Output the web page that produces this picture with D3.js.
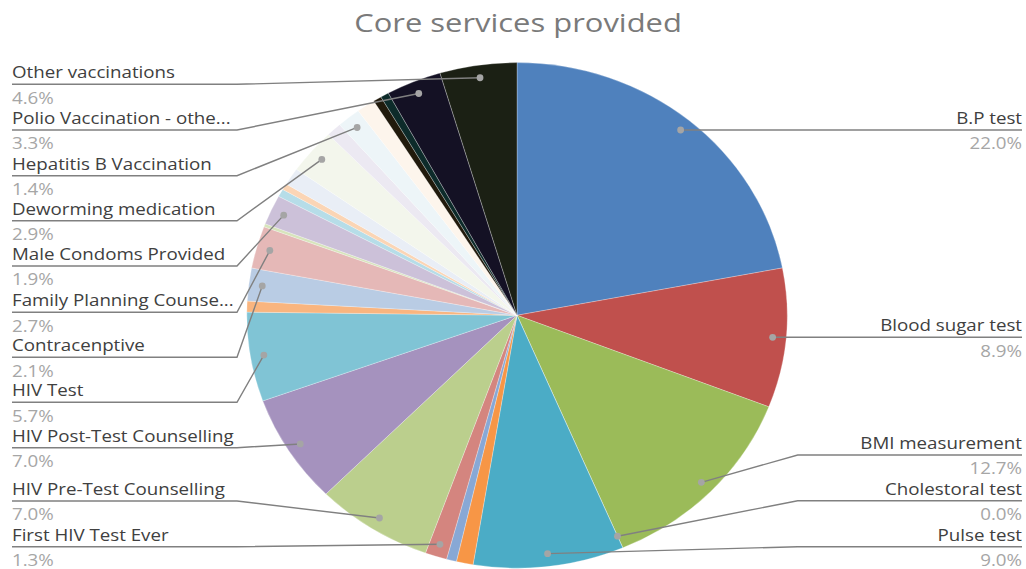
<!DOCTYPE html>
<html>
<head>
<meta charset="utf-8">
<script src="https://cdn.jsdelivr.net/npm/d3@7"></script>
<style>
  html, body { margin: 0; padding: 0; background: #fff; }
  svg { display: block; font-family: "Open Sans", "Noto Sans", sans-serif; }
</style>
</head>
<body>
<svg id="chart" width="1026" height="569"></svg>
<script>
// Services in drawing order (clockwise from 12 o'clock).
// Empty names are slices whose data labels are switched off.
const services = [
  "B.P test", "Blood sugar test", "BMI measurement", "Cholestoral test", "Pulse test",
  "", "", "First HIV Test Ever", "HIV Pre-Test Counselling", "HIV Post-Test Counselling",
  "HIV Test", "", "Contracenptive", "Family Planning Counse...", "",
  "Male Condoms Provided", "", "", "", "Deworming medication",
  "", "Hepatitis B Vaccination", "", "", "",
  "Polio Vaccination - othe...", "Other vaccinations"
];

// Share of services, in percent.
const shares = [
  22.0, 8.9, 12.7, 0.0, 9.0,
  1.0, 0.6, 1.3, 7.0, 7.0,
  5.7, 0.7, 2.1, 2.7, 0.2,
  1.9, 0.5, 0.4, 1.1, 2.9,
  0.9, 1.4, 1.1, 0.5, 0.5,
  3.3, 4.6
];

const sliceColors = [
  "#4f81bd", "#c0504d", "#9bbb59", "#8064a2", "#4bacc6",
  "#f79646", "#88a8d5", "#d4857f", "#bbcf8d", "#a592be",
  "#80c4d5", "#f9b57f", "#b9cce4", "#e5b8b7", "#d7e4bc",
  "#ccc1d9", "#b6dde8", "#fbd5b5", "#e9eef6", "#f3f6ec",
  "#ece9f2", "#edf5f8", "#fdf5ec", "#211a0c", "#0d2b2a",
  "#141124", "#1b2014"
];

// Vertical position of each label's underline.
const labelLineY = {
  "B.P test": 130, "Blood sugar test": 337.3, "BMI measurement": 455,
  "Cholestoral test": 500.7, "Pulse test": 546.7,
  "Other vaccinations": 84.3, "Polio Vaccination - othe...": 130,
  "Hepatitis B Vaccination": 175.7, "Deworming medication": 220.7,
  "Male Condoms Provided": 266, "Family Planning Counse...": 312.3,
  "Contracenptive": 357.3, "HIV Test": 402.3,
  "HIV Post-Test Counselling": 447.7, "HIV Pre-Test Counselling": 501,
  "First HIV Test Ever": 546.7
};

const svg = d3.select("#chart");
const cx = 517, cy = 315.3;
const r = 252.7;          // vertical radius
const sx = 270.2 / r;     // horizontal stretch of the pie
const textStretch = 1.135;
const labelSize = 16.5;

svg.append("text")
  .attr("transform", "translate(518,32) scale(1.19,1)")
  .attr("text-anchor", "middle")
  .attr("font-size", 26)
  .attr("fill", "#7a7a7a")
  .text("Core services provided");

const rows = services.map((name, i) => ({ name, value: shares[i], color: sliceColors[i] }));

const pie = d3.pie().sort(null).value(d => d.value);
const arcs = pie(rows);

const arc = d3.arc().innerRadius(0).outerRadius(r);
const anchorArc = d3.arc().innerRadius(r * 0.95).outerRadius(r * 0.95);

const pieG = svg.append("g")
  .attr("transform", `translate(${cx},${cy}) scale(${sx},1)`);

pieG.selectAll("path")
  .data(arcs)
  .join("path")
  .attr("d", arc)
  .attr("fill", d => d.data.color)
  .attr("stroke", "#ffffff")
  .attr("stroke-opacity", 0.45)
  .attr("stroke-width", 0.6)
  .attr("vector-effect", "non-scaling-stroke");

// Data labels with leader lines
const labelled = arcs.filter(d => d.data.name !== "");
const leftX = 12, leftElbow = 237, rightX = 1022, rightElbow = 797.7;
const fmt = v => v.toFixed(1) + "%";

const lab = svg.append("g");

labelled.forEach(d => {
  const [ax, ay] = anchorArc.centroid(d);
  const px = cx + ax * sx, py = cy + ay;
  const ly = labelLineY[d.data.name];
  const mid = (d.startAngle + d.endAngle) / 2;
  const onRight = mid < Math.PI * 1.02;
  const flat = onRight && Math.abs(py - ly) < 2;

  const pts = onRight
    ? (flat ? [[px, ly], [rightX, ly]] : [[px, py], [rightElbow, ly], [rightX, ly]])
    : [[px, py], [leftElbow, ly], [leftX, ly]];

  lab.append("path")
    .attr("d", d3.line()(pts))
    .attr("fill", "none")
    .attr("stroke", "#808080")
    .attr("stroke-width", 1.4);

  lab.append("circle")
    .attr("cx", px).attr("cy", flat ? ly : py)
    .attr("r", 3.4)
    .attr("fill", "#a5a5a5");

  const tx = onRight ? rightX : leftX;
  const anchor = onRight ? "end" : "start";

  lab.append("text")
    .attr("transform", `translate(${tx},${ly - 6}) scale(${textStretch},1)`)
    .attr("text-anchor", anchor)
    .attr("font-size", labelSize)
    .attr("fill", "#404040")
    .text(d.data.name);

  lab.append("text")
    .attr("transform", `translate(${tx},${ly + 19.2}) scale(${textStretch},1)`)
    .attr("text-anchor", anchor)
    .attr("font-size", labelSize)
    .attr("fill", "#a6a6a6")
    .text(fmt(d.data.value));
});
</script>
</body>
</html>
